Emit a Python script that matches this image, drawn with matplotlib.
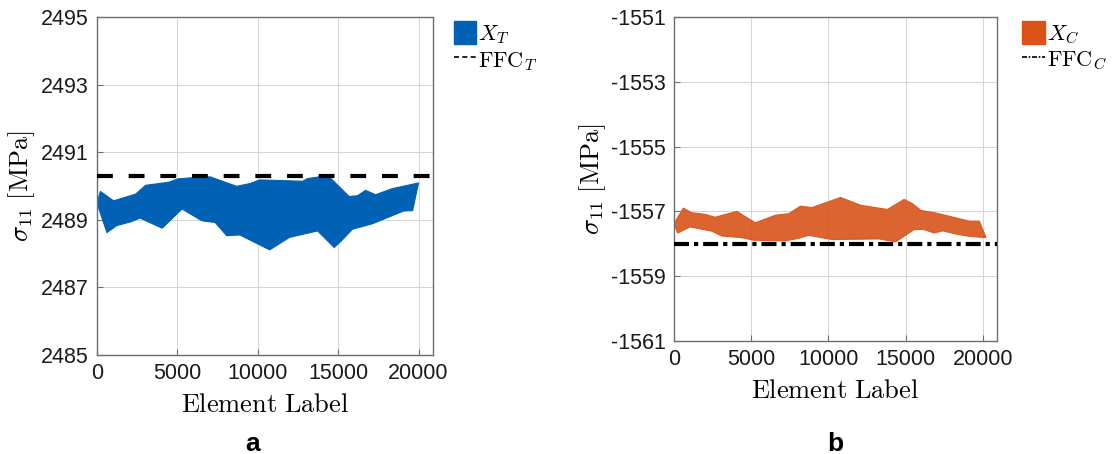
import matplotlib
matplotlib.use("Agg")
import numpy as np
import matplotlib.pyplot as plt
from matplotlib.patches import Patch
from matplotlib.lines import Line2D

# ============================================================
# DATA
# ============================================================

# panel a : tensile band X_T
xt_upper_x = [0, 206, 1029, 2407, 3025, 4465, 5021, 5803, 7037, 8683, 9506,
              10124, 12799, 13107, 13828, 14445, 15679, 16194, 16709, 17326,
              18354, 20001]
xt_upper_y = [2489.49, 2489.84, 2489.56, 2489.76, 2490.02, 2490.11, 2490.21,
              2490.24, 2490.27, 2489.99, 2490.07, 2490.18, 2490.14, 2490.22,
              2490.27, 2490.27, 2489.69, 2489.71, 2489.87, 2489.74, 2489.92,
              2490.09]
xt_lower_x = [0, 617, 1235, 2099, 2675, 4054, 5288, 6523, 7346, 8066, 8889,
              10741, 11976, 13725, 14753, 15165, 15885, 17120, 19075, 19630,
              20001]
xt_lower_y = [2489.49, 2488.62, 2488.83, 2488.94, 2489.05, 2488.75, 2489.32,
              2488.97, 2488.92, 2488.53, 2488.55, 2488.11, 2488.48, 2488.67,
              2488.18, 2488.36, 2488.72, 2488.88, 2489.26, 2489.27, 2490.09]
ffc_t = 2490.3

# panel b : compressive band X_C
xc_upper_x = [0, 606, 1147, 2013, 2663, 4070, 5260, 6559, 7425, 8182, 8940,
              10780, 12079, 13811, 14893, 15434, 15975, 16949, 18248, 19114,
              19763, 20196]
xc_upper_y = [-1557.38, -1556.90, -1557.04, -1557.09, -1557.18, -1557.00,
              -1557.35, -1557.12, -1557.07, -1556.84, -1556.88, -1556.57,
              -1556.81, -1556.94, -1556.63, -1556.76, -1556.97, -1557.05,
              -1557.20, -1557.30, -1557.30, -1557.81]
xc_lower_x = [0, 238, 1039, 1688, 2446, 3096, 4394, 5152, 7208, 8074, 8724,
              10239, 13269, 14352, 15542, 16192, 16841, 17382, 18357, 19114,
              20196]
xc_lower_y = [-1557.38, -1557.67, -1557.48, -1557.54, -1557.61, -1557.76,
              -1557.81, -1557.89, -1557.91, -1557.83, -1557.74, -1557.87,
              -1557.85, -1557.94, -1557.56, -1557.56, -1557.67, -1557.60,
              -1557.71, -1557.77, -1557.81]
ffc_c = -1558.0

x_ticks = [0, 5000, 10000, 15000, 20000]
yt_ticks = [2485, 2487, 2489, 2491, 2493, 2495]
yc_ticks = [-1561, -1559, -1557, -1555, -1553, -1551]

# ============================================================
# STYLE
# ============================================================

plt.rcParams["font.family"] = ["Liberation Sans", "DejaVu Sans"]
plt.rcParams["mathtext.fontset"] = "cm"
plt.rcParams["axes.unicode_minus"] = False

BLUE = "#0061B5"
ORANGE = "#D95319"
SPINE = "#6e6e6e"

fig = plt.figure(figsize=(11.14, 4.54), dpi=100)

ax_a = fig.add_axes([0.0871, 0.2181, 0.3016, 0.7445])
ax_b = fig.add_axes([0.6050, 0.2489, 0.2899, 0.7137])


def style_axes(ax, yticks):

    ax.set_xlim(0, 20900)
    ax.set_ylim(yticks[0], yticks[-1])
    ax.set_xticks(x_ticks)
    ax.set_yticks(yticks)

    ax.grid(True, color="#d4d4d4", linewidth=0.7, linestyle="-")
    ax.set_axisbelow(True)

    for s in ax.spines.values():
        s.set_color(SPINE)
        s.set_linewidth(1.0)

    ax.tick_params(direction="in", length=4, color=SPINE,
                   labelsize=15.5, labelcolor="#1a1a1a", pad=6)

    ax.set_xlabel(r"$\mathrm{Element\ Label}$", fontsize=19, labelpad=6)
    ax.set_ylabel(r"$\sigma_{11}\ \mathrm{[MPa]}$", fontsize=19)


# ============================================================
# PANEL A
# ============================================================

poly_x = list(xt_upper_x) + list(xt_lower_x[::-1])
poly_y = list(xt_upper_y) + list(xt_lower_y[::-1])

ax_a.fill(poly_x, poly_y, color=BLUE, edgecolor=BLUE, linewidth=0.8, zorder=2)
ax_a.axhline(ffc_t, color="black", linewidth=3,
             linestyle=(0, (3.8, 3.8)), zorder=3)

style_axes(ax_a, yt_ticks)
ax_a.yaxis.set_label_coords(-0.18, 0.5)

handles_a = [
    Patch(facecolor=BLUE, edgecolor=BLUE),
    Line2D([0], [0], color="black", linewidth=1.2, linestyle=(0, (3, 2)))
]

ax_a.legend(handles_a, [r"$X_T$", r"$\mathrm{FFC}_T$"],
            loc="upper left", bbox_to_anchor=(1.015, 1.034),
            frameon=False, fontsize=16, handlelength=1.0,
            handleheight=1.2, handletextpad=0.1, labelspacing=0.1,
            borderaxespad=0.3)

# ============================================================
# PANEL B
# ============================================================

poly_x = list(xc_upper_x) + list(xc_lower_x[::-1])
poly_y = list(xc_upper_y) + list(xc_lower_y[::-1])

ax_b.fill(poly_x, poly_y, color=ORANGE, alpha=0.9,
          edgecolor=ORANGE, linewidth=0.8, zorder=2)
ax_b.axhline(ffc_c, color="black", linewidth=3,
             linestyle=(0, (3.6, 1.2, 1.0, 1.2)), zorder=3)

style_axes(ax_b, yc_ticks)
ax_b.yaxis.set_label_coords(-0.205, 0.5)

handles_b = [
    Patch(facecolor=ORANGE, edgecolor=ORANGE),
    Line2D([0], [0], color="black", linewidth=1.2,
           linestyle=(0, (3, 1, 1, 1)))
]

ax_b.legend(handles_b, [r"$X_C$", r"$\mathrm{FFC}_C$"],
            loc="upper left", bbox_to_anchor=(1.031, 1.036),
            frameon=False, fontsize=16, handlelength=1.0,
            handleheight=1.2, handletextpad=0.1, labelspacing=0.1,
            borderaxespad=0.3)

# ============================================================
# PANEL LETTERS
# ============================================================

fig.text(253 / 1114, 0.022, "a", fontsize=19, fontweight="bold",
         ha="center", va="center")
fig.text(835 / 1114, 0.022, "b", fontsize=19, fontweight="bold",
         ha="center", va="center")

plt.savefig("out.png", dpi=100)

plt.close()
